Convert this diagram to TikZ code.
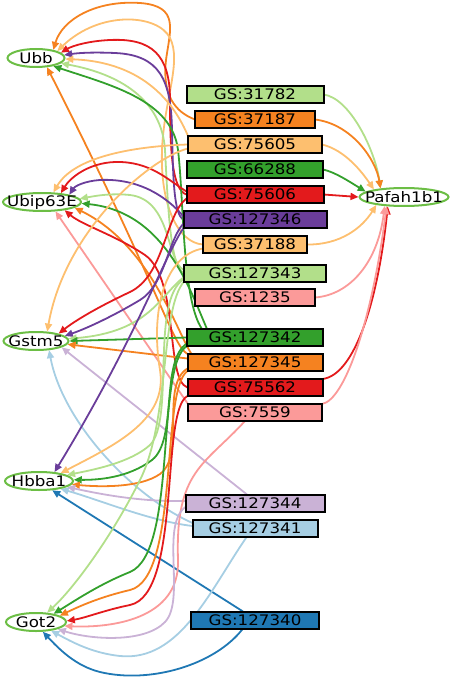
\documentclass[tikz,border=0pt]{standalone}
\usepackage{fontspec}
\newfontfamily\gsfont{DejaVu Sans}[FakeStretch=1.15]
\usetikzlibrary{positioning,shapes.geometric,arrows.meta}

\definecolor{gslgreen}{HTML}{B2DF8A}
\definecolor{gsdgreen}{HTML}{33A02C}
\definecolor{gspink}{HTML}{FB9A99}
\definecolor{gsred}{HTML}{E31A1C}
\definecolor{gslorange}{HTML}{FDBF6F}
\definecolor{gsorange}{HTML}{F58220}
\definecolor{gslavender}{HTML}{CAB2D6}
\definecolor{gspurple}{HTML}{6A3D9A}
\definecolor{gslblue}{HTML}{A6CEE3}
\definecolor{gsblue}{HTML}{1F78B4}
\definecolor{genegreen}{RGB}{108,190,69}

\pgfdeclarelayer{links}
\pgfsetlayers{links,main}

\begin{document}
\begin{tikzpicture}[
  x=1pt, y=1pt,
  gsbox/.style={draw, line width=2pt, minimum height=17pt, inner sep=0pt, outer sep=0pt,
    font=\gsfont\fontsize{14.5}{14.5}\selectfont},
  gene/.style={ellipse, draw=genegreen, fill=white, line width=2pt, minimum height=18pt,
    inner xsep=-12pt, inner ysep=-6pt, font=\gsfont\fontsize{14.5}{14.5}\selectfont},
  link/.style={-{Triangle[length=8pt,width=7pt]}, line width=1.8pt},
  node distance=8pt
]
\useasboundingbox (0,0) rectangle (454,-679);

% gene sets
\node[gsbox, fill=gslgreen, minimum width=137pt] (b31782) at (255,-94.5) {GS:31782};
\node[gsbox, fill=gsorange, minimum width=120pt, below=of b31782] (b37187) {GS:37187};
\node[gsbox, fill=gslorange, minimum width=134pt, below=of b37187] (b75605) {GS:75605};
\node[gsbox, fill=gsdgreen, minimum width=136pt, below=of b75605] (b66288) {GS:66288};
\node[gsbox, fill=gsred, minimum width=137pt, below=of b66288] (b75606) {GS:75606};
\node[gsbox, fill=gspurple, minimum width=143pt, below=of b75606] (b127346) {GS:127346};
\node[gsbox, fill=gslorange, minimum width=104pt, below=of b127346] (b37188) {GS:37188};
\node[gsbox, fill=gslgreen, minimum width=142pt, below=11.5pt of b37188] (b127343) {GS:127343};
\node[gsbox, fill=gspink, minimum width=120pt, below=7.5pt of b127343] (b1235) {GS:1235};
\node[gsbox, fill=gsdgreen, minimum width=136pt, below=23pt of b1235] (b127342) {GS:127342};
\node[gsbox, fill=gsorange, minimum width=135pt, below=of b127342] (b127345) {GS:127345};
\node[gsbox, fill=gsred, minimum width=135pt, below=of b127345] (b75562) {GS:75562};
\node[gsbox, fill=gspink, minimum width=134pt, below=of b75562] (b7559) {GS:7559};
\node[gsbox, fill=gslavender, minimum width=139pt, below=73.5pt of b7559] (b127344) {GS:127344};
\node[gsbox, fill=gslblue, minimum width=125pt, below=of b127344] (b127341) {GS:127341};
\node[gsbox, fill=gsblue, minimum width=128pt, below=75pt of b127341] (b127340) {GS:127340};

% genes
\node[gene, minimum width=57pt] (Ubb) at (36,-58) {Ubb};
\node[gene, minimum width=78pt] (Ubip63E) at (42,-202) {Ubip63E};
\node[gene, minimum width=65pt] (Gstm5) at (36,-341) {Gstm5};
\node[gene, minimum width=68pt] (Hbba1) at (39,-481) {Hbba1};
\node[gene, minimum width=60pt] (Got2) at (36,-622) {Got2};
\node[gene, minimum width=89pt] (Pafah1b1) at (404,-197) {Pafah1b1};

\begin{pgfonlayer}{links}
% to Pafah1b1
\draw[link, gslgreen] (b31782.east) .. controls (350,-98) and (375,-150) .. (Pafah1b1.160);
\draw[link, gsorange] (b37187.east) .. controls (352,-124) and (376,-160) .. (Pafah1b1.160);
\draw[link, gslorange] (b75605.east) .. controls (345,-150) and (362,-172) .. (Pafah1b1.166);
\draw[link, gsdgreen] (b66288.east) .. controls (335,-172) and (350,-182) .. (Pafah1b1.172);
\draw[link, gsred] (b75606.east) -- (Pafah1b1.west);
\draw[link, gslorange] (b37188.east) .. controls (340,-245) and (362,-228) .. (Pafah1b1.196);
\draw[link, gspink] (b1235.east) .. controls (350,-295) and (378,-262) .. (Pafah1b1.205);
\draw[link, gsred] (b75562.north east) .. controls (355,-375) and (378,-300) .. (Pafah1b1.210);
\draw[link, gspink] (b7559.north east) .. controls (345,-400) and (372,-320) .. (Pafah1b1.208);

% to Ubb
\draw[link, gsorange] (b37187.west) .. controls (175,-112) and (162,-95) .. (166,-60)
  .. controls (170,-30) and (180,-6) .. (140,-3) .. controls (95,0) and (62,-20) .. (Ubb.25);
\draw[link, gslorange] (b37188.west) .. controls (178,-243) and (160,-205) .. (162,-150)
  .. controls (164,-100) and (182,-62) .. (170,-38) .. controls (158,-14) and (100,-10) .. (Ubb.18);
\draw[link, gsred] (b75606.west) .. controls (172,-190) and (170,-150) .. (170,-100)
  .. controls (170,-55) and (152,-38) .. (110,-40) .. controls (88,-41) and (72,-46) .. (Ubb.12);
\draw[link, gspurple] (b127346.west) .. controls (174,-215) and (173,-180) .. (172,-130)
  .. controls (171,-80) and (160,-55) .. (115,-53) .. controls (92,-52) and (78,-53) .. (Ubb.6);
\draw[link, gslorange] (b75605.north west) .. controls (175,-105) and (145,-62) .. (Ubb.-2);
\draw[link, gslgreen] (b127343.west) .. controls (170,-268) and (168,-205) .. (165,-150)
  .. controls (162,-100) and (120,-74) .. (Ubb.-12);
\draw[link, gsdgreen] ([xshift=15pt]b127342.north west) .. controls (182,-300) and (184,-200) .. (178,-150)
  .. controls (172,-100) and (110,-85) .. (Ubb.-25);
\draw[link, gsorange] (b127345.north west) .. controls (172,-345) and (160,-290) .. (Ubb.-40);

% to Ubip63E
\draw[link, gslorange] (b75605.west) .. controls (140,-146) and (75,-155) .. (Ubip63E.40);
\draw[link, gsred] ([yshift=3pt]b75606.west) .. controls (168,-180) and (150,-161) .. (115,-162)
  .. controls (88,-163) and (70,-178) .. (Ubip63E.25);
\draw[link, gspurple] ([yshift=3pt]b127346.west) .. controls (168,-198) and (140,-178) .. (100,-180)
  .. controls (85,-181) and (75,-186) .. (Ubip63E.15);
\draw[link, gslgreen] ([yshift=3pt]b127343.west) .. controls (166,-262) and (172,-200) .. (130,-195)
  .. controls (110,-193) and (95,-196) .. (Ubip63E.5);
\draw[link, gsdgreen] ([xshift=20pt]b127342.north west) .. controls (190,-290) and (165,-212) .. (Ubip63E.-2);
\draw[link, gsorange] ([xshift=4pt]b127345.north west) .. controls (176,-330) and (150,-245) .. (Ubip63E.-10);
\draw[link, gsred] (b75562.west) .. controls (165,-380) and (180,-280) .. (145,-255)
  .. controls (115,-235) and (82,-225) .. (Ubip63E.-20);
\draw[link, gspink] (b7559.north west) -- (Ubip63E.-35);

% to Gstm5
\draw[link, gslorange] ([yshift=-4pt]b75605.west) .. controls (150,-158) and (65,-230) .. (Gstm5.40);
\draw[link, gsred] ([yshift=-4pt]b75606.west) .. controls (165,-215) and (165,-275) .. (130,-292)
  .. controls (100,-306) and (76,-320) .. (Gstm5.18);
\draw[link, gspurple] ([yshift=-4pt]b127346.west) .. controls (168,-240) and (165,-285) .. (140,-300)
  .. controls (115,-315) and (88,-328) .. (Gstm5.10);
\draw[link, gslgreen] ([yshift=-4pt]b127343.west) .. controls (160,-295) and (150,-332) .. (Gstm5.4);
\draw[link, gsdgreen] (b127342.west) -- (Gstm5.east);
\draw[link, gsorange] ([yshift=4pt]b127345.west) -- (Gstm5.-6);
\draw[link, gslavender] ([xshift=-8pt]b127344.north) -- (Gstm5.-14);
\draw[link, gslblue] ([yshift=5pt]b127341.west) .. controls (130,-495) and (62,-420) .. (Gstm5.-35);

% to Hbba1
\draw[link, gspurple] (b127346.south west) .. controls (165,-255) and (135,-340) .. (Hbba1.30);
\draw[link, gslorange] ([yshift=-4pt]b37188.west) .. controls (165,-255) and (150,-310) .. (160,-370)
  .. controls (168,-420) and (115,-445) .. (Hbba1.20);
\draw[link, gslgreen] ([yshift=-6pt]b127343.west) .. controls (150,-300) and (175,-420) .. (150,-445)
  .. controls (130,-463) and (92,-470) .. (Hbba1.12);
\draw[link, gsdgreen] ([yshift=-6pt]b127342.west) .. controls (160,-360) and (178,-440) .. (152,-460)
  .. controls (128,-478) and (98,-480) .. (Hbba1.2);
\draw[link, gsorange] ([yshift=-6pt]b127345.west) .. controls (160,-385) and (186,-455) .. (160,-474)
  .. controls (140,-488) and (100,-487) .. (Hbba1.-6);
\draw[link, gslavender] ([yshift=2pt]b127344.west) .. controls (140,-502) and (100,-494) .. (Hbba1.-12);
\draw[link, gslblue] ([yshift=2pt]b127341.west) .. controls (150,-521) and (100,-500) .. (Hbba1.-20);
\draw[link, gsblue] ([xshift=-12pt]b127340.north) -- (Hbba1.-35);

% to Got2
\draw[link, gslgreen] (b127343.south west) .. controls (160,-310) and (170,-420) .. (140,-480)
  .. controls (110,-540) and (72,-590) .. (Got2.40);
\draw[link, gsdgreen] (b127342.south west) .. controls (155,-365) and (178,-552) .. (130,-572)
  .. controls (100,-584) and (76,-600) .. (Got2.25);
\draw[link, gsorange] (b127345.south west) .. controls (160,-390) and (180,-578) .. (130,-590)
  .. controls (100,-597) and (80,-606) .. (Got2.15);
\draw[link, gsred] (b75562.south west) .. controls (160,-410) and (182,-594) .. (130,-605)
  .. controls (105,-610) and (85,-618) .. (Got2.2);
\draw[link, gspink] ([xshift=-10pt]b7559.south) .. controls (205,-465) and (175,-470) .. (178,-560)
  .. controls (180,-620) and (110,-628) .. (Got2.-8);
\draw[link, gslavender] ([yshift=-4pt]b127344.west) .. controls (160,-525) and (186,-600) .. (165,-622)
  .. controls (145,-643) and (92,-640) .. (Got2.-18);
\draw[link, gslblue] ([xshift=-8pt]b127341.south) .. controls (210,-590) and (180,-662) .. (120,-656)
  .. controls (92,-653) and (72,-642) .. (Got2.-30);
\draw[link, gsblue] ([xshift=-12pt]b127340.south) .. controls (215,-665) and (150,-684) .. (100,-672)
  .. controls (76,-666) and (60,-650) .. (Got2.-55);
\end{pgfonlayer}
\end{tikzpicture}
\end{document}
